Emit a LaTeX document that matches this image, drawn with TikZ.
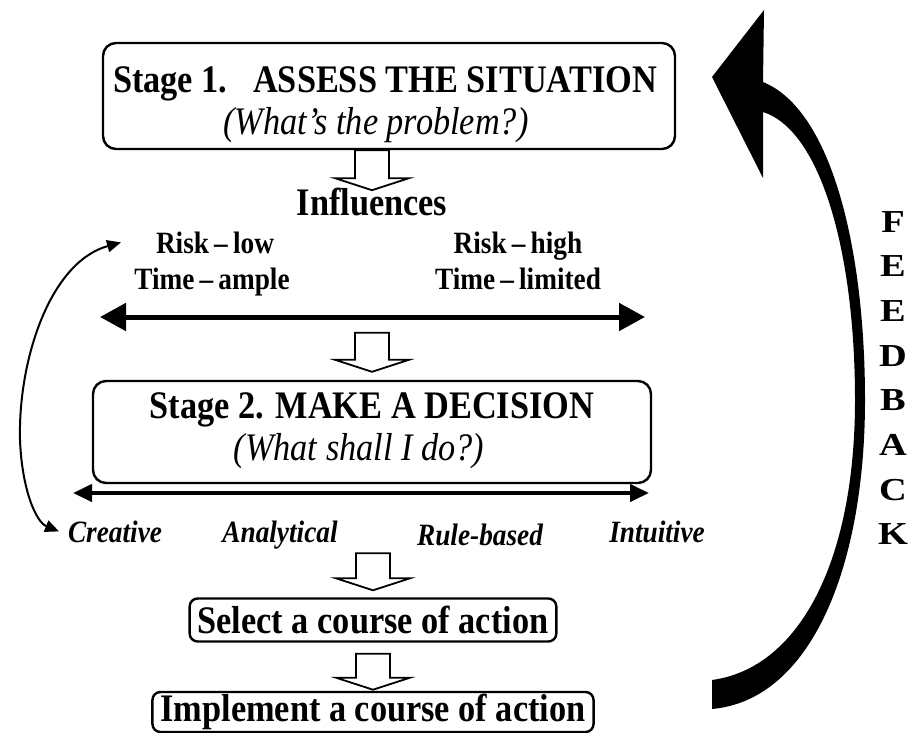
\documentclass[tikz,border=0pt]{standalone}
\usepackage{fontspec}
\setmainfont{Liberation Serif}[FakeStretch=0.88]
\newfontfamily\widefont{Liberation Serif}[FakeStretch=1.2]
\usetikzlibrary{arrows.meta}
\newcommand\blockdown[2]{\draw[hollow] (#1) ++(-17,0) -- ++(0,#2) -- ++(-20,0) -- ++(37,12) -- ++(37,-12) -- ++(-20,0) -- ++(0,-#2) -- cycle;}

\begin{document}
\begin{tikzpicture}[x=1pt,y=-1pt,line width=2pt,
  stagebox/.style={draw,line width=2.4pt,rounded corners=13pt,inner sep=0pt},
  actbox/.style={draw,line width=2.4pt,rounded corners=8pt,inner xsep=8pt,inner ysep=0pt,font=\fontsize{39}{42}\selectfont\bfseries},
  hollow/.style={draw,line width=1.8pt,fill=white,line join=miter},
  bigtxt/.style={anchor=base,inner sep=0pt,font=\fontsize{39}{42}\selectfont\bfseries},
  asktxt/.style={anchor=base,inner sep=0pt,font=\fontsize{39}{42}\selectfont\itshape},
  risktxt/.style={anchor=base,inner sep=0pt,font=\fontsize{31}{34}\selectfont\bfseries},
  styletxt/.style={anchor=base,inner sep=0pt,font=\fontsize{31}{34}\selectfont\bfseries\itshape},
  fbletter/.style={anchor=base,inner sep=0pt,font=\fontsize{32}{34}\selectfont\widefont\bfseries}]
\useasboundingbox (0,0) rectangle (913,733);

\node[stagebox,minimum width=572pt,minimum height=106pt] (s1) at (389,96) {};
\node[bigtxt] (s1title) at (385,93) {Stage 1.\ \ \ ASSESS THE SITUATION};
\node[asktxt] (s1ask) at (376,135) {(What's the problem?)};
\node[bigtxt] (infl) at (372,215) {Influences};

\node[risktxt] (risklow) at (215,253) {Risk\,--\,low};
\node[risktxt] (timeample) at (212,289) {Time\,--\,ample};
\node[risktxt] (riskhigh) at (518,253) {Risk\,--\,high};
\node[risktxt] (timelim) at (518,289) {Time\,--\,limited};

\coordinate (bigL) at (100,317);
\coordinate (bigR) at (645,317);
\draw[line width=5pt,{Triangle[length=26pt,width=27pt]}-{Triangle[length=26pt,width=27pt]}] (bigL) -- (bigR);

\node[stagebox,minimum width=558pt,minimum height=102pt] (s2) at (372,432) {};
\node[bigtxt] (s2title) at (372,418) {Stage 2. MAKE A DECISION};
\node[asktxt] (s2ask) at (359,460) {(What shall I do?)};

\coordinate (smallL) at (73,493);
\coordinate (smallR) at (649,493);
\draw[line width=4pt,{Triangle[length=19pt,width=17pt]}-{Triangle[length=19pt,width=17pt]}] (smallL) -- (smallR);

\foreach \x/\y/\name/\txt in {115/542/creative/Creative,280/542/analytic/Analytical,480/545/rulebased/Rule-based,657/542/intuitive/Intuitive}
  \node[styletxt] (\name) at (\x,\y) {\txt};

\node[actbox,minimum height=43pt] (select) at (373,620) {Select a course of action};
\node[actbox,minimum height=40pt] (impl) at (373,712) {Implement a course of action};

\blockdown{s1.south -| infl}{28}
\blockdown{[yshift=47pt]s2.north}{27}
\blockdown{[yshift=44pt]select.north}{25}
\blockdown{[yshift=-11pt]select.south}{24}

\draw[{Triangle[length=14pt,width=12pt]}-{Triangle[length=14pt,width=12pt]}] ([xshift=-34pt]risklow.west) .. controls (50,262) and (18,360) .. (20,440) .. controls (22,490) and (36,522) .. ([xshift=-8pt]creative.west);

\fill (763,82) .. controls (832,110) and (865,250) .. (865,400) .. controls (865,565) and (812,700) .. (712,709) -- (712,680) .. controls (800,668) and (855,560) .. (855,400) .. controls (855,250) and (820,130) .. (763,112) -- (763,178) -- (712,77) -- (764,10) -- cycle;

\foreach \ch [count=\i from 0] in {F,E,E,D,B,A,C,K}
  \node[fbletter] (fb\i) at (893,232+44.7*\i) {\ch};
\end{tikzpicture}
\end{document}
